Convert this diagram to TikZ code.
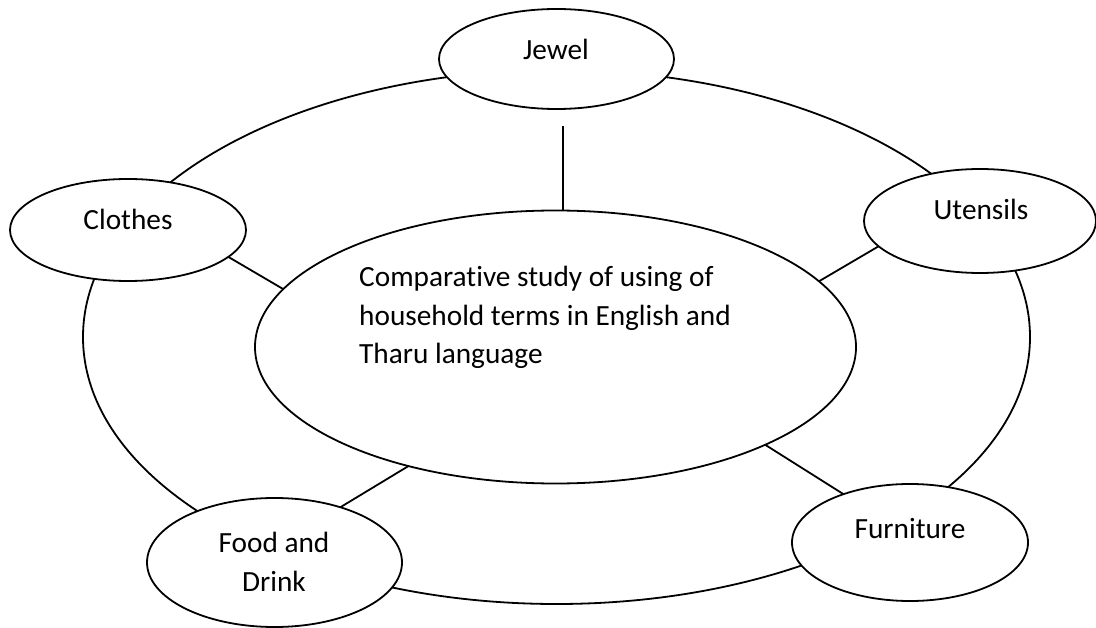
\documentclass[tikz,border=0pt]{standalone}
\usepackage{fontspec}
\setmainfont{Carlito}[Ligatures=NoCommon]
\usetikzlibrary{shapes.geometric}
\begin{document}
\begin{tikzpicture}[x=1pt,y=-1pt,
  oval/.style={draw=black, line width=1.8pt, fill=white, ellipse, inner sep=0pt, outer sep=0pt},
  link/.style={draw=black, line width=1.8pt},
  lbl/.style={inner sep=0pt, font=\fontsize{29.3}{38.7}\selectfont, text=black}]
% page
\fill[white] (0,0) rectangle (1096,628);
\useasboundingbox (0,0) rectangle (1096,628);

% outer ring joining the five topic ovals
\node[oval, fill=none, minimum width=947pt, minimum height=534pt] (ring) at (556.5,337) {};

% central topic and the five surrounding ovals
\node[oval, minimum width=601pt, minimum height=273pt] (central) at (555.5,347) {};
\node[oval, minimum width=235pt, minimum height=100pt] (jewel) at (556.5,59) {};
\node[oval, minimum width=236pt, minimum height=102pt] (clothes) at (128,230) {};
\node[oval, minimum width=232pt, minimum height=104pt] (utensils) at (980,221) {};
\node[oval, minimum width=255pt, minimum height=129pt] (food) at (274.5,562.5) {};
\node[oval, minimum width=236pt, minimum height=117pt] (furniture) at (910,542.5) {};

% spokes to the central oval
\coordinate (jewelfoot) at (563,126);
\draw[link] (jewelfoot) -- (jewelfoot |- central.north);
\draw[link] (clothes.-15) -- (central.168);
\draw[link] (utensils.-166) -- (central.14);
\draw[link] (food.40) -- (central.219);
\draw[link] (furniture.144) -- (central.-25.5);

% labels
\node[lbl, anchor=base] (jewel-t) at (556,60) {Jewel};
\node[lbl, anchor=base] (clothes-t) at (128,230) {Clothes};
\node[lbl, anchor=base] (utensils-t) at (981,220) {Utensils};
\node[lbl, anchor=base] (furniture-t) at (910,538) {Furniture};
\node[lbl, anchor=base] (food-t1) at (274,552) {Food and};
\node[lbl, anchor=base] (food-t2) at (274,591) {Drink};
\node[lbl, anchor=base west] (central-t1) at (359,287) {Comparative study of using of};
\node[lbl, anchor=base west] (central-t2) at (359,326) {household terms in English and};
\node[lbl, anchor=base west] (central-t3) at (359,364) {Tharu language};
\end{tikzpicture}
\end{document}
